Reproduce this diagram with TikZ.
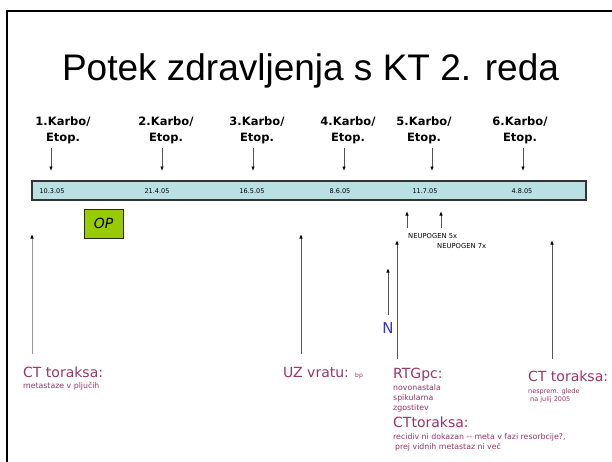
\documentclass[tikz,border=0pt]{standalone}
\usepackage{fontspec}
\setmainfont{Liberation Sans}
\newfontfamily\comicfont{DejaVu Sans}
\usetikzlibrary{arrows.meta}
\definecolor{barFill}{HTML}{B9E0E3}
\definecolor{opFill}{HTML}{99CC00}
\definecolor{textRose}{HTML}{993366}
\definecolor{textBlue}{HTML}{3333CC}
\definecolor{lineGray}{HTML}{555555}

\begin{document}
\begin{tikzpicture}[x=1pt, y=-1pt,
  titletext/.style={font=\fontsize{37}{40}\selectfont, anchor=base, inner sep=0pt},
  karbolab/.style={font=\comicfont\bfseries\fontsize{11.5}{16}\selectfont, align=center, anchor=base, inner sep=0pt},
  datelab/.style={font=\comicfont\fontsize{6.5}{8}\selectfont, anchor=base, inner sep=0pt},
  timebar/.style={draw=black!80, line width=1.2pt, fill=barFill, minimum width=554pt, minimum height=19pt, inner sep=0pt},
  opbox/.style={draw=black!85, line width=1pt, fill=opFill, minimum width=39pt, minimum height=29pt, font=\comicfont\itshape\fontsize{14}{16}\selectfont},
  downarrow/.style={lineGray, line width=0.8pt, -{Latex[length=4.5pt, width=3.5pt, color=black]}},
  uparrow/.style={lineGray, line width=0.9pt, -{Latex[length=4.5pt, width=3.5pt, color=black]}},
  findhead/.style={font=\comicfont\fontsize{14}{16}\selectfont, text=textRose, anchor=base west, inner sep=0pt},
  findnote/.style={font=\comicfont\fontsize{7.8}{10}\selectfont, text=textRose, anchor=base west, align=left, inner sep=0pt},
  neulab/.style={font=\comicfont\fontsize{6.8}{7}\selectfont, anchor=base west, inner sep=0pt}
]
  \useasboundingbox (0,0) rectangle (612,461);

  %% --- okvir in naslov ---
  \draw[line width=2pt] (6.5,462) -- (6.5,11) -- (613,11);
  \node[titletext] (title) at (310.5,80) {Potek zdravljenja s KT 2. reda};

  %% --- casovni trak ---
  \node[timebar] (bar) at (309,190.5) {};
  \node[opbox] (op) at (103.5,223.5) {OP};

  %% --- cikli kemoterapije: oznaka, puscica, datum ---
  %% (base vecvrsticnega vozlisca = zadnja vrstica)
  \foreach \n/\lx/\ax/\dat/\dx in {
    1/63/51/10.3.05/52,
    2/166/162/21.4.05/157,
    3/257/253/16.5.05/252,
    4/348/344/8.6.05/340,
    5/424/432/11.7.05/425,
    6/520/523/4.8.05/522} {
    \node[karbolab] (k\n) at (\lx,141) {\n.Karbo/\\Etop.};
    \coordinate (ka\n) at (\ax,148);
    \coordinate (kb\n) at (\ax,171);
    \draw[downarrow] (ka\n) -- (kb\n);
    \node[datelab] (d\n) at (\dx,193) {\dat};
  }

  %% --- preiskave: puscice navzgor ---
  \foreach \name/\ux/\ybot/\ytop/\col in {
    ctl/32/354/234/black!40,
    uz/301/354/234/lineGray,
    rtg/397/359/240/lineGray,
    ctr/552/359/240/lineGray,
    nn/388/315/268/lineGray,
    neua/407/228/211/lineGray,
    neub/441/228/211/lineGray} {
    \coordinate (\name b) at (\ux,\ybot);
    \coordinate (\name t) at (\ux,\ytop);
    \draw[uparrow, draw=\col] (\name b) -- (\name t);
  }

  \node[neulab] (neu5) at (408,238) {NEUPOGEN 5x};
  \node[neulab] (neu7) at (437,248) {NEUPOGEN 7x};
  \node[font=\comicfont\fontsize{15}{16}\selectfont, text=textBlue, anchor=base, inner sep=0pt] (nlab) at (388,333) {N};

  %% --- izvidi ---
  \node[findhead] (ctlh) at (23,377) {CT toraksa:};
  \node[findnote] (ctln) at (23,388) {metastaze v plju\v{c}ih};

  \node[findhead] (uzh) at (283,377) {UZ vratu:};
  \node[findnote, font=\comicfont\fontsize{6}{6}\selectfont] (uzn) at (355,377) {bp};

  \node[findhead] (rtgh) at (393,378) {RTGpc:};
  \node[findnote] (rtgn) at (393,410) {novonastala\\spikularna\\zgostitev};
  \node[findhead] (cth) at (393,427) {CTtoraksa:};
  \node[findnote] (ctn) at (393,449) {recidiv ni dokazan -- meta v fazi resorbcije?,\\\hspace{2pt}prej vidnih metastaz ni ve\v{c}};

  \node[findhead] (ctrh) at (528,381) {CT toraksa:};
  \node[findnote, font=\comicfont\fontsize{6.5}{8}\selectfont] (ctrn) at (528,401) {nesprem. glede\\\hspace{2pt}na julij 2005};
\end{tikzpicture}
\end{document}
